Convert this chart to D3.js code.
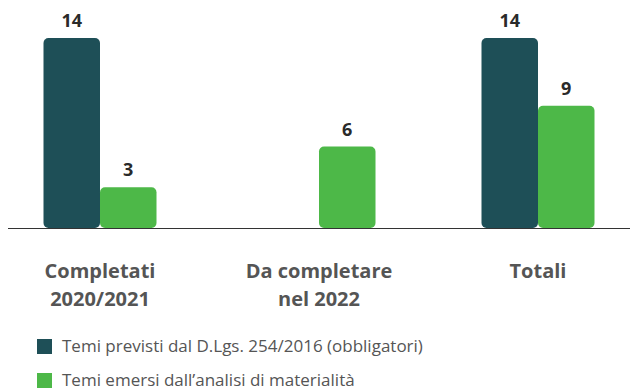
<!DOCTYPE html>
<html>
<head>
<meta charset="utf-8">
<script src="https://cdn.jsdelivr.net/npm/d3@7"></script>
<style>
  html, body { margin: 0; padding: 0; background: #fff; }
  svg { display: block; font-family: "Open Sans", "Noto Sans", sans-serif; }
</style>
</head>
<body>
<svg id="chart" width="630" height="390"></svg>
<script>
// Categories (two-line labels) and the two series
const categories = ["Completati 2020/2021", "Da completare nel 2022", "Totali"];
const categoryLines = [["Completati", "2020/2021"], ["Da completare", "nel 2022"], ["Totali"]];
const seriesNames = ["Temi previsti dal D.Lgs. 254/2016 (obbligatori)", "Temi emersi dall\u2019analisi di materialità"];
const obbligatori = [14, null, 14];
const materialita = [3, 6, 9];
const seriesColors = ["#1e4f57", "#4db848"];

const svg = d3.select("#chart");
const baseY = 228;

const x0 = d3.scaleBand().domain(categories).range([-9.5, 647.5]).padding(0);
const x1 = d3.scaleBand().domain([0, 1]).range([-56.5, 56.5]);
const y = d3.scaleLinear().domain([0, 14]).range([baseY, 38]);

const rows = [];
categories.forEach((c, i) => {
  [obbligatori[i], materialita[i]].forEach((v, s) => {
    if (v != null) rows.push({ cat: c, s, v });
  });
});

const cx = c => x0(c) + x0.bandwidth() / 2;

svg.append("g").selectAll("rect")
  .data(rows).join("rect")
  .attr("x", d => cx(d.cat) + x1(d.s))
  .attr("width", x1.bandwidth())
  .attr("y", d => y(d.v))
  .attr("height", d => baseY - y(d.v))
  .attr("rx", 5)
  .attr("fill", d => seriesColors[d.s]);

// value labels
svg.append("g").selectAll("text")
  .data(rows).join("text")
  .attr("x", d => cx(d.cat) + x1(d.s) + x1.bandwidth() / 2)
  .attr("y", d => y(d.v) - 11)
  .attr("text-anchor", "middle")
  .attr("font-size", 18)
  .attr("font-weight", 700)
  .attr("fill", "#2a2a2a")
  .text(d => d.v);

// baseline
svg.append("line")
  .attr("x1", 8).attr("x2", 630)
  .attr("y1", baseY + 0.5).attr("y2", baseY + 0.5)
  .attr("stroke", "#333").attr("stroke-width", 1.2);

// category labels
const catG = svg.append("g").selectAll("text")
  .data(categories).join("text")
  .attr("text-anchor", "middle")
  .attr("font-size", 20)
  .attr("font-weight", 700)
  .attr("fill", "#555");
catG.each(function(c, i) {
  const t = d3.select(this);
  categoryLines[i].forEach((line, j) => {
    t.append("tspan").attr("x", cx(c)).attr("y", 278 + j * 28).text(line);
  });
});

// legend
const legend = svg.append("g").selectAll("g")
  .data(seriesNames).join("g")
  .attr("transform", (d, i) => `translate(37, ${339 + i * 34})`);
legend.append("rect")
  .attr("width", 15).attr("height", 15)
  .attr("fill", (d, i) => seriesColors[i]);
legend.append("text")
  .attr("x", 25).attr("y", 13)
  .attr("font-size", 17)
  .attr("fill", "#555")
  .text(d => d);
</script>
</body>
</html>
